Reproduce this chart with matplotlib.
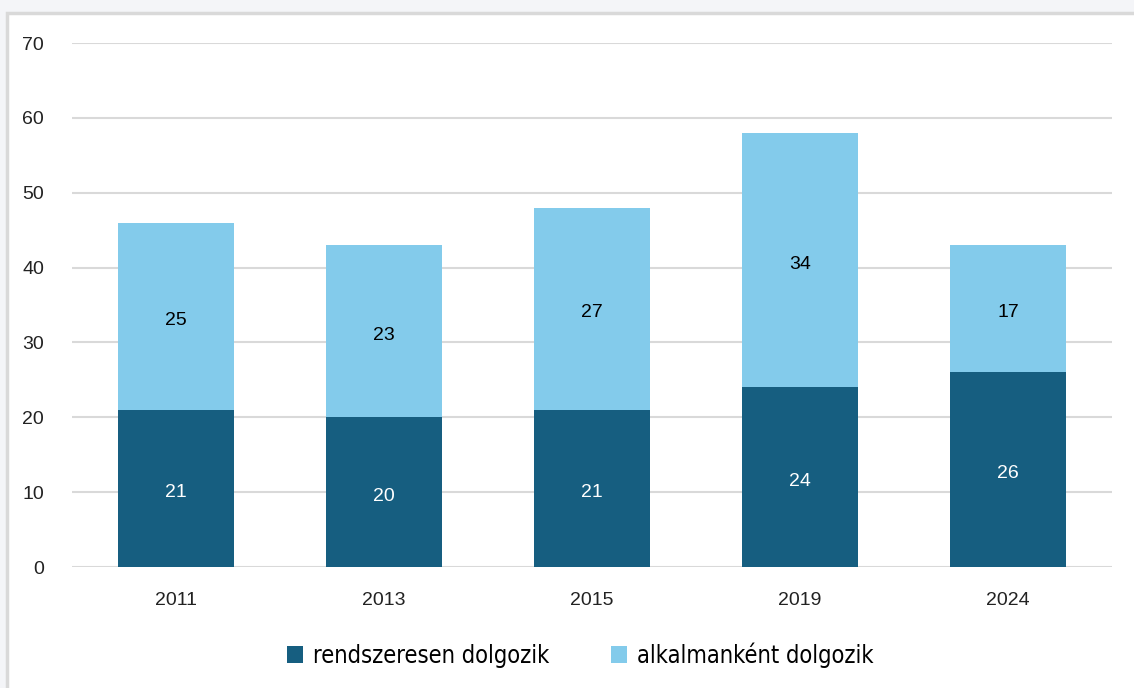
import matplotlib.pyplot as plt
from matplotlib.patches import Rectangle
import numpy as np

years = ["2011", "2013", "2015", "2019", "2024"]
rendszeresen = [21, 20, 21, 24, 26]
alkalmankent = [25, 23, 27, 34, 17]

dark = "#165E80"
light = "#83CBEB"

plt.rcParams['font.family'] = ['Liberation Sans', 'DejaVu Sans']

fig = plt.figure(figsize=(11.34, 6.88), dpi=100)
fig.patch.set_facecolor("#f4f5f8")
# white panel with grey border
fig.patches.append(Rectangle((7 / 1134, -0.05), 1.2, 1 - 13 / 688 + 0.05,
                             transform=fig.transFigure, facecolor="white",
                             edgecolor="#d9d9d9", linewidth=2.5, zorder=-10))

ax = fig.add_axes([72 / 1134, 1 - 567 / 688, 1040 / 1134, 524 / 688])
ax.set_facecolor("none")

x = np.arange(len(years))
w = 0.56
b1 = ax.bar(x, rendszeresen, w, color=dark, label="rendszeresen dolgozik", zorder=2)
b2 = ax.bar(x, alkalmankent, w, bottom=rendszeresen, color=light,
            label="alkalmanként dolgozik", zorder=2)

for i in range(len(years)):
    ax.text(x[i], rendszeresen[i] / 2 - 0.3, str(rendszeresen[i]), ha="center",
            va="center_baseline", color="white", fontsize=14)
    ax.text(x[i], rendszeresen[i] + alkalmankent[i] / 2 - 0.3, str(alkalmankent[i]),
            ha="center", va="center_baseline", color="black", fontsize=14)

ax.set_xlim(-0.5, len(years) - 0.5)
ax.set_ylim(0, 70)
ax.set_yticks(range(0, 71, 10))
ax.set_xticks(x)
ax.set_xticklabels(years)
ax.yaxis.grid(True, color="#d9d9d9", linewidth=1.5, zorder=0)
ax.set_axisbelow(True)
for s in ax.spines.values():
    s.set_visible(False)
ax.tick_params(axis="both", length=0, labelsize=14, colors="#222222")
ax.tick_params(axis="y", pad=20)
ax.tick_params(axis="x", pad=18)

fig.legend(handles=[b1, b2], loc="center", bbox_to_anchor=(580 / 1134, 1 - 655 / 688),
           ncol=2, frameon=False, handlelength=0.7, handleheight=0.7,
           handletextpad=0.4, columnspacing=2.6,
           prop={'family': 'DejaVu Sans', 'stretch': 'condensed', 'size': 17})

fig.savefig("out.png", dpi=100)
